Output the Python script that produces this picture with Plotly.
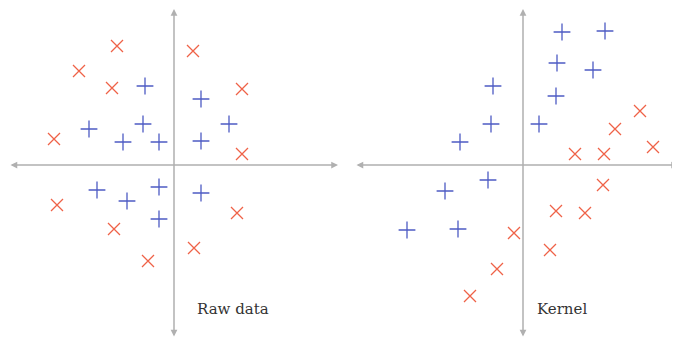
import plotly.graph_objects as go

# ---- data (units: arbitrary, origin at axes crossing) ----
raw_red_x = [-5.7, -9.5, -6.2, -12.0, 1.9, 6.8, 6.8, -11.7, -6.0, -2.6, 6.3, 2.0]
raw_red_y = [11.9, 9.4, 7.7, 2.6, 11.4, 7.6, 1.1, -4.0, -6.4, -9.6, -4.8, -8.3]
raw_blue_x = [-2.9, 2.7, -8.5, -3.1, -5.1, -1.5, 2.7, 5.5, -7.7, -4.7, -1.5, -1.5, 2.7]
raw_blue_y = [7.9, 6.6, 3.6, 4.1, 2.3, 2.3, 2.4, 4.1, -2.5, -3.6, -2.2, -5.4, -2.8]

ker_blue_x = [3.9, 8.2, 3.4, 7.0, -3.0, 3.3, -3.2, 1.6, -6.3, -3.5, -7.8, -11.6, -6.5]
ker_blue_y = [13.3, 13.4, 10.2, 9.5, 7.9, 6.9, 4.1, 4.1, 2.3, -1.5, -2.6, -6.5, -6.4]
ker_red_x = [11.7, 9.2, 13.0, 5.2, 8.1, 8.0, 3.3, 6.2, -0.9, 2.7, -2.6, -5.3]
ker_red_y = [5.4, 3.6, 1.8, 1.1, 1.1, -2.0, -4.6, -4.8, -6.8, -8.5, -10.4, -13.1]

panel_labels = ["Raw data", "Kernel"]

RED = "#ef6247"
BLUE = "#4d5bc4"
AXIS = "#b0b0b0"

fig = go.Figure()

def add_pts(xs, ys, sym, color, xa, ya):
    fig.add_trace(go.Scatter(
        x=xs, y=ys, mode="markers", xaxis=xa, yaxis=ya, cliponaxis=False,
        marker=dict(symbol=sym, size=12, color=color,
                    line=dict(color=color, width=1.3)),
        showlegend=False, hoverinfo="skip"))

add_pts(raw_red_x, raw_red_y, "x-thin", RED, "x", "y")
add_pts(raw_blue_x, raw_blue_y, "cross-thin", BLUE, "x", "y")
add_pts(ker_red_x, ker_red_y, "x-thin", RED, "x2", "y2")
add_pts(ker_blue_x, ker_blue_y, "cross-thin", BLUE, "x2", "y2")

# axes with arrows (both ends)
axes_ext = [
    ("x", "y", (-16.5, 16.4), (-17.3, 15.6)),
    ("x2", "y2", (-16.8, 15.5), (-17.3, 15.6)),
]
for xa, ya, (x0, x1), (y0, y1) in axes_ext:
    for (ax_, ay_, xx, yy) in [(x0, 0, x1, 0), (0, y0, 0, y1)]:
        fig.add_annotation(
            x=xx, y=yy, ax=ax_, ay=ay_, xref=xa, yref=ya, axref=xa, ayref=ya,
            showarrow=True, arrowhead=2, startarrowhead=2, arrowside="end+start",
            arrowsize=0.9, startarrowsize=0.9, arrowwidth=1.5, arrowcolor=AXIS, text="")

for xa, ya, lx, lab in [("x", "y", 2.1, panel_labels[0]), ("x2", "y2", 1.2, panel_labels[1])]:
    fig.add_annotation(x=lx, y=-14.4, xref=xa, yref=ya, text=lab, showarrow=False,
                       xanchor="left", yanchor="middle",
                       font=dict(family="DejaVu Serif", size=15, color="#333333"))

# page body has an 8px default margin; figure sized/ranged to compensate
ax_common = dict(visible=False, showgrid=False, zeroline=False, fixedrange=True)
split = 332 / 672
fig.update_layout(
    width=672, height=334,
    margin=dict(l=0, r=0, t=0, b=0),
    paper_bgcolor="white", plot_bgcolor="white",
    xaxis=dict(domain=[0, split], range=[-16.6, 16.6], **ax_common),
    yaxis=dict(domain=[0, 1], range=[-17.7, 15.7], **ax_common),
    xaxis2=dict(domain=[split, 1], range=[-18.3, 15.7], **ax_common),
    yaxis2=dict(domain=[0, 1], range=[-17.7, 15.7], anchor="x2", **ax_common),
)

fig.write_html("out.html")
